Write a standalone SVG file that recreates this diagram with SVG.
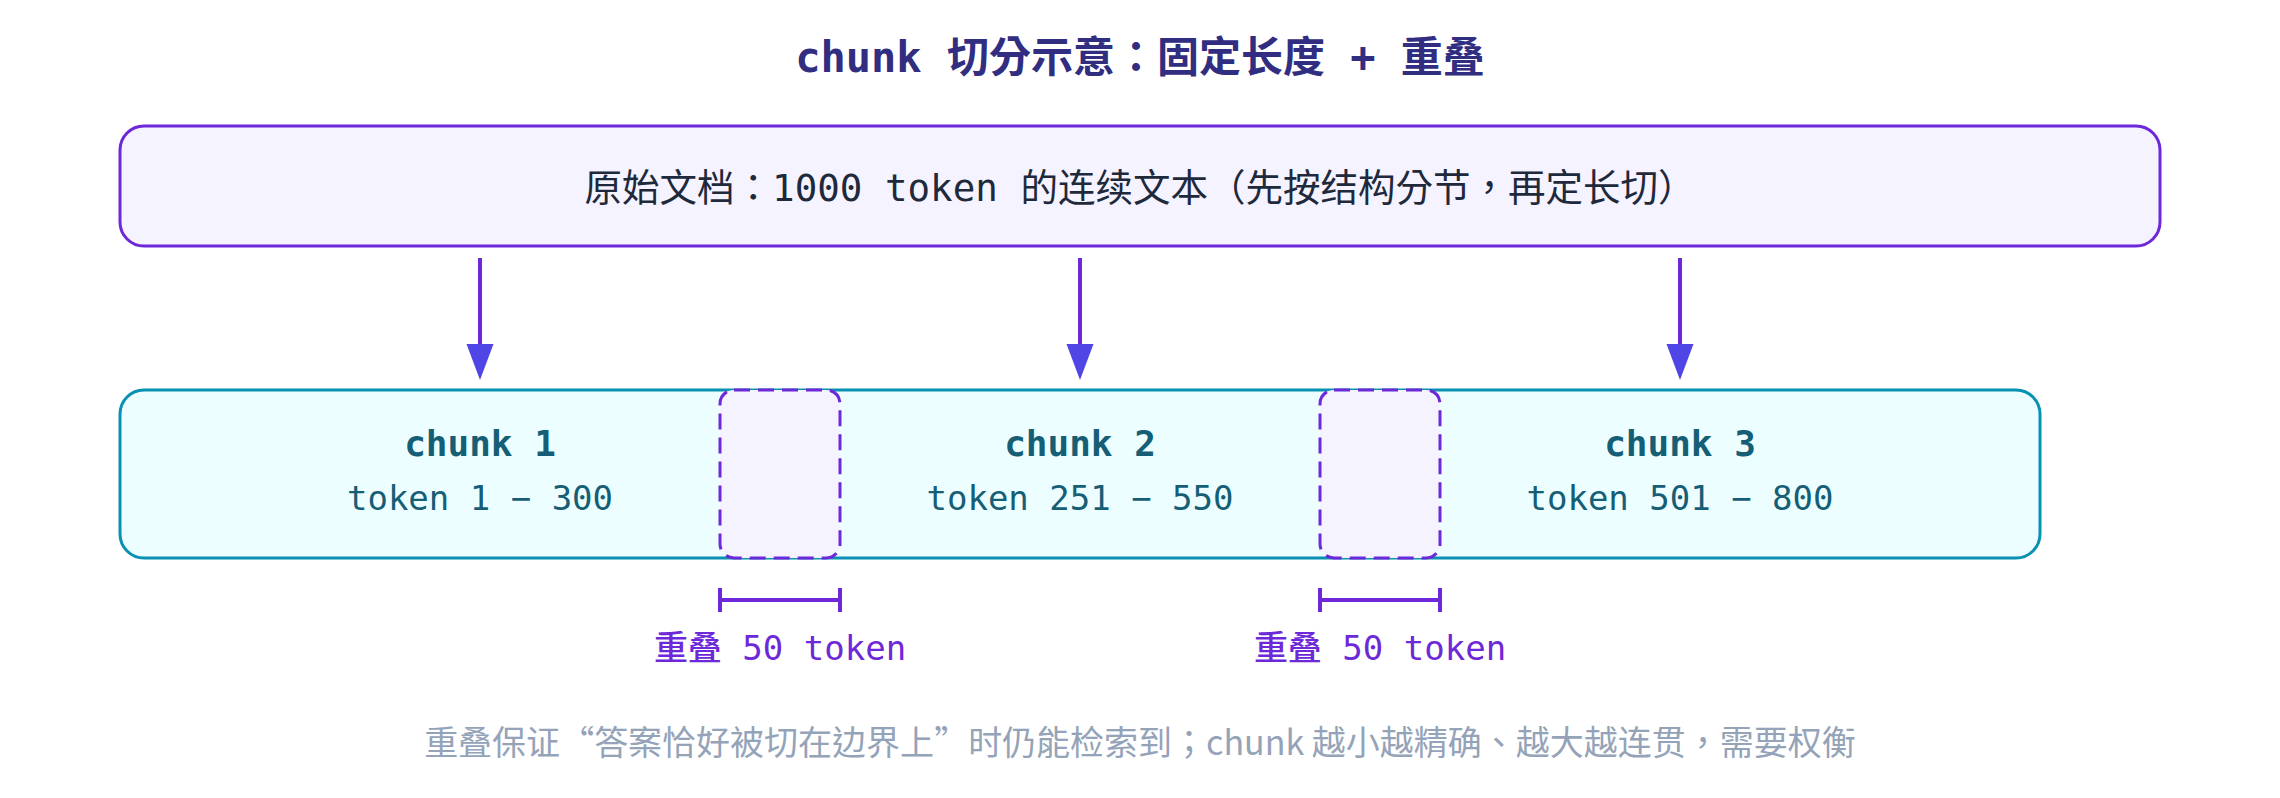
<svg xmlns="http://www.w3.org/2000/svg" width="2280" height="798" viewBox="0 0 2280 798">
<style>
.title{font-family:"DejaVu Sans Mono","Noto Sans CJK TC",monospace;font-weight:700;font-size:42px;fill:#312e81;text-anchor:middle}
.doc{font-family:"DejaVu Sans Mono","Noto Sans CJK TC",monospace;font-size:37.5px;fill:#1e293b;text-anchor:middle}
.cname{font-family:"DejaVu Sans Mono","Noto Sans CJK TC",monospace;font-weight:700;font-size:36px;fill:#155e75;text-anchor:middle}
.crange{font-family:"DejaVu Sans Mono","Noto Sans CJK TC",monospace;font-size:34px;fill:#155e75;text-anchor:middle}
.olabel{font-family:"DejaVu Sans Mono","Noto Sans CJK TC",monospace;font-weight:500;font-size:34px;fill:#6d28d9;text-anchor:middle}
.note{font-family:"Noto Sans CJK TC",sans-serif;font-size:34px;fill:#94a3b8;text-anchor:middle}
.q{font-family:"Noto Sans CJK SC",sans-serif}
.arrow{stroke:#6d28d9;stroke-width:4;fill:none}
.brk{stroke:#6d28d9;stroke-width:4;fill:none}
.ovl{fill:#f5f3ff;stroke:#6d28d9;stroke-width:3;stroke-dasharray:16 8}
</style>
<defs>
<marker id="ah" markerUnits="userSpaceOnUse" markerWidth="38" markerHeight="28" viewBox="0 -14 38 28" refX="0" refY="0" orient="auto">
<path d="M0,-13.5 L36,0 L0,13.5 Z" fill="#4f46e5"/>
</marker>
</defs>
<rect width="2280" height="798" fill="#ffffff"/>
<text id="title" class="title" x="1140" y="72">chunk 切分示意：固定长度 + 重叠</text>
<g id="doc">
<rect x="120" y="126" width="2040" height="120" rx="24" fill="#f5f3ff" stroke="#6d28d9" stroke-width="3"/>
<text class="doc" x="1140" y="201">原始文档：1000 token 的连续文本（先按结构分节，再定长切）</text>
</g>
<g id="connectors">
<line class="arrow" x1="480" y1="258" x2="480" y2="344" marker-end="url(#ah)"/>
<line class="arrow" x1="1080" y1="258" x2="1080" y2="344" marker-end="url(#ah)"/>
<line class="arrow" x1="1680" y1="258" x2="1680" y2="344" marker-end="url(#ah)"/>
</g>
<g id="bar">
<rect x="120" y="390" width="1920" height="168" rx="24" fill="#ecfeff" stroke="#0891b2" stroke-width="3"/>
</g>
<g id="overlap1">
<rect class="ovl" x="720" y="390" width="120" height="168" rx="14"/>
</g>
<g id="overlap2">
<rect class="ovl" x="1320" y="390" width="120" height="168" rx="14"/>
</g>
<g id="chunk1">
<text class="cname" x="480" y="456">chunk 1</text>
<text class="crange" x="480" y="510">token 1 − 300</text>
</g>
<g id="chunk2">
<text class="cname" x="1080" y="456">chunk 2</text>
<text class="crange" x="1080" y="510">token 251 − 550</text>
</g>
<g id="chunk3">
<text class="cname" x="1680" y="456">chunk 3</text>
<text class="crange" x="1680" y="510">token 501 − 800</text>
</g>
<g id="bracket1">
<path class="brk" d="M720,588 V612 M720,600 H840 M840,588 V612"/>
<text class="olabel" x="780" y="660">重叠 50 token</text>
</g>
<g id="bracket2">
<path class="brk" d="M1320,588 V612 M1320,600 H1440 M1440,588 V612"/>
<text class="olabel" x="1380" y="660">重叠 50 token</text>
</g>
<text id="note" class="note" x="1140" y="755">重叠保证<tspan class="q">“</tspan>答案恰好被切在边界上<tspan class="q">”</tspan>时仍能检索到；chunk 越小越精确、越大越连贯，需要权衡</text>
</svg>
